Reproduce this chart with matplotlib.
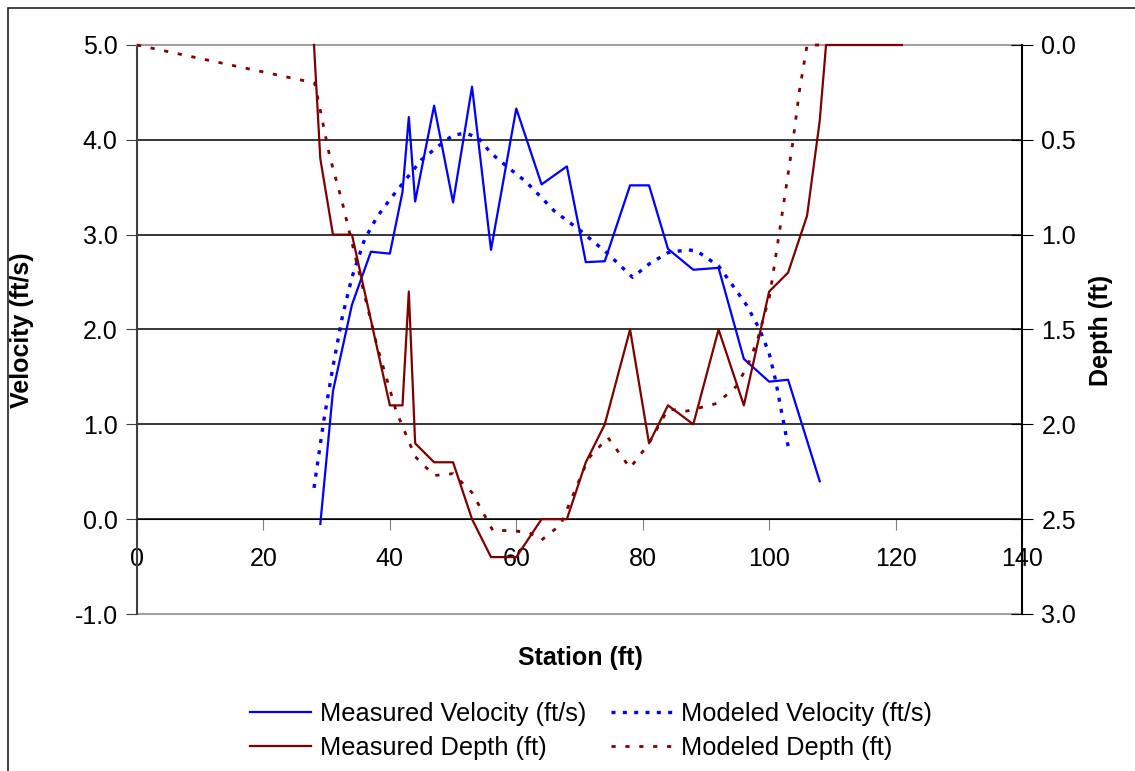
import matplotlib
matplotlib.use("Agg")
import matplotlib.pyplot as plt
from matplotlib.patches import Rectangle
from matplotlib.lines import Line2D
from matplotlib.ticker import MultipleLocator, FormatStrFormatter

plt.rcParams["font.family"] = ["Liberation Sans", "DejaVu Sans"]

# Measured velocity (ft/s)
meas_vel_x = [29, 31, 34, 37, 40, 42, 43, 44, 47, 50, 53, 56, 60, 64, 68, 71, 74,
              78, 81, 84, 88, 92, 96, 100, 103, 108]
meas_vel = [-0.05, 1.35, 2.26, 2.82, 2.80, 3.45, 4.24, 3.35, 4.36, 3.34, 4.56, 2.84,
            4.33, 3.53, 3.72, 2.71, 2.72, 3.52, 3.52, 2.85, 2.63, 2.65, 1.69, 1.45,
            1.47, 0.40]

# Modeled velocity (ft/s)
mod_vel_x = [28, 29.5, 31, 32.5, 34, 36, 38, 40, 42.5, 45, 48, 50, 52, 54, 56, 58.5,
             61.5, 64, 66, 70, 74.3, 78.4, 81, 84, 87, 88.5, 92, 94.5, 96.5, 98.5,
             100, 101, 103]
mod_vel = [0.33, 1.02, 1.61, 2.14, 2.55, 2.95, 3.19, 3.37, 3.58, 3.79, 3.95, 4.05,
           4.07, 4.02, 3.86, 3.72, 3.56, 3.39, 3.25, 3.05, 2.81, 2.55, 2.69, 2.81,
           2.84, 2.83, 2.67, 2.44, 2.25, 2.00, 1.75, 1.47, 0.77]

# Measured depth (ft)
meas_dep_x = [28, 29, 31, 34, 40, 42, 43, 44, 47, 50, 53, 56, 60, 64, 68, 71, 74, 78,
              81, 84, 88, 92, 96, 100, 103, 106, 108, 109, 121]
meas_dep = [0.0, 0.6, 1.0, 1.0, 1.9, 1.9, 1.3, 2.1, 2.2, 2.2, 2.5, 2.7, 2.7, 2.5, 2.5,
            2.2, 2.0, 1.5, 2.1, 1.9, 2.0, 1.5, 1.9, 1.3, 1.2, 0.9, 0.4, 0.0, 0.0]

# Modeled depth (ft)
mod_dep_x = [0, 28.1, 30.5, 32.4, 33.7, 36, 38, 41, 44, 47, 50, 53, 56.3, 59, 62, 64,
             67, 71.4, 74.5, 78, 81, 84, 87, 91.7, 94.8, 96.6, 98.2, 100.1, 101.7,
             103.8, 104.8, 106, 109]
mod_dep = [0.0, 0.2, 0.59, 0.82, 1.0, 1.32, 1.59, 1.93, 2.17, 2.27, 2.26, 2.36, 2.56,
           2.56, 2.57, 2.61, 2.53, 2.18, 2.07, 2.23, 2.10, 1.92, 1.93, 1.89, 1.80,
           1.69, 1.55, 1.32, 0.97, 0.50, 0.24, 0.0, 0.0]

BLUE = "#0000FF"
MAROON = "#800000"
FS = 18

fig = plt.figure(figsize=(11.35, 7.71), dpi=100)
ax = fig.add_axes([137 / 1135, 1 - 614 / 771, 885 / 1135, 569 / 771])

# chart border (only top and left edges are inside the picture)
fig.patches.append(Rectangle((8 / 1135, -0.1), 1.2, 1.1 - 8 / 771,
                             transform=fig.transFigure, fill=False,
                             edgecolor="#202020", linewidth=1.2))

ax.plot(meas_vel_x, meas_vel, color=BLUE, lw=1.6, label="Measured Velocity (ft/s)")
ax.plot(mod_vel_x, mod_vel, color=BLUE, lw=2.4, linestyle=(0, (1.2, 2.2)),
        label="Modeled Velocity (ft/s)")

ax.set_xlim(0, 140)
ax.set_ylim(-1, 5)
ax.xaxis.set_major_locator(MultipleLocator(20))
ax.yaxis.set_major_locator(MultipleLocator(1))
ax.yaxis.set_major_formatter(FormatStrFormatter("%.1f"))
ax.grid(axis="y", color="black", lw=1.1)
ax.set_axisbelow(True)

ax.spines["bottom"].set_position(("data", 0))
ax.spines["bottom"].set_color("black")
ax.spines["top"].set_color("#a0a0a0")
ax.spines["top"].set_linewidth(1.5)
ax.spines["left"].set_color("#404040")
ax.spines["left"].set_linewidth(1.5)
ax.spines["right"].set_visible(False)
ax.axhline(-1, color="#a0a0a0", lw=1.5, clip_on=False)

ax.tick_params(axis="x", direction="out", length=8, color="#808080", pad=12,
               labelsize=FS)
ax.tick_params(axis="y", direction="out", length=8, color="#404040", pad=6,
               labelsize=FS)

ax2 = ax.twinx()
ax2.plot(meas_dep_x, meas_dep, color=MAROON, lw=1.6, clip_on=False,
         label="Measured Depth (ft)")
ax2.plot(mod_dep_x, mod_dep, color=MAROON, lw=2.0, linestyle=(0, (1.5, 3.5)),
         clip_on=False, label="Modeled Depth (ft)")
ax2.set_ylim(3, 0)
ax2.yaxis.set_major_locator(MultipleLocator(0.5))
ax2.yaxis.set_major_formatter(FormatStrFormatter("%.1f"))
for side in ["top", "bottom", "left"]:
    ax2.spines[side].set_visible(False)
ax2.spines["right"].set_color("black")
ax2.spines["right"].set_linewidth(1.5)
ax2.tick_params(axis="y", direction="inout", length=16, color="black", pad=6,
                labelsize=FS)

fig.text(22 / 1135, 1 - 330 / 771, "Velocity (ft/s)", rotation=90, ha="center",
         va="center", fontsize=FS, fontweight="bold")
fig.text(1101 / 1135, 1 - 330 / 771, "Depth (ft)", rotation=90, ha="center",
         va="center", fontsize=FS, fontweight="bold")
fig.text(580 / 1135, 1 - 658 / 771, "Station (ft)", ha="center", va="center",
         fontsize=FS, fontweight="bold")

handles = [
    Line2D([], [], color=BLUE, lw=1.6),
    Line2D([], [], color=MAROON, lw=1.6),
    Line2D([], [], color=BLUE, lw=2.4, linestyle=(0, (1.2, 2.2))),
    Line2D([], [], color=MAROON, lw=2.0, linestyle=(0, (1.5, 3.5))),
]
labels = ["Measured Velocity (ft/s)", "Measured Depth (ft)",
          "Modeled Velocity (ft/s)", "Modeled Depth (ft)"]
fig.legend(handles, labels, ncol=2, loc="center",
           bbox_to_anchor=(591 / 1135, 1 - 731 / 771), frameon=False,
           fontsize=18.3, handlelength=2.4, handletextpad=0.35,
           columnspacing=1.0, labelspacing=0.42)

fig.savefig("out.png", dpi=100)
